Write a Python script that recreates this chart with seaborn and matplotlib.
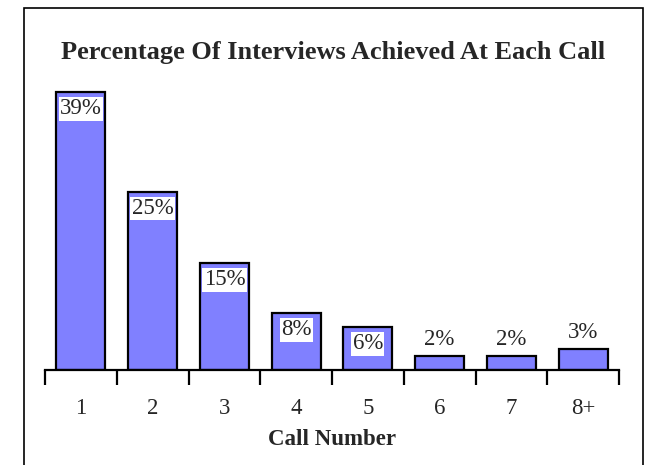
import matplotlib
matplotlib.use("Agg")
import matplotlib.pyplot as plt
import seaborn as sns
import pandas as pd
from matplotlib.patches import Rectangle

calls = ["1", "2", "3", "4", "5", "6", "7", "8+"]
pct = [39, 25, 15, 8, 6, 2, 2, 3]
pct_labels = ["39%", "25%", "15%", "8%", "6%", "2%", "2%", "3%"]

sns.set_style("white")
plt.rcParams["font.family"] = ["Liberation Serif", "DejaVu Serif"]

W, H = 646, 465
fig = plt.figure(figsize=(W / 100, H / 100), dpi=100)
ax = fig.add_axes([45 / W, 95 / H, (619 - 45) / W, (370 - 80) / H])

df = pd.DataFrame({"call": calls, "pct": pct})
sns.barplot(data=df, x="call", y="pct", color="#8080FF", saturation=1,
            edgecolor="black", linewidth=1.6, width=0.68, ax=ax)

ax.set_xlim(-0.5, len(calls) - 0.5)
ax.set_ylim(0, (370 - 80) / 7.13)

# value labels: inside top of the bar with white box, or above small bars
for i, (v, lab) in enumerate(zip(pct, pct_labels)):
    if v >= 5:
        ax.annotate(lab, (i, v), xytext=(0, -4.5), textcoords="offset points",
                    ha="center", va="top", fontsize=16.5,
                    bbox=dict(facecolor="white", edgecolor="none", pad=1.0))
    else:
        ax.annotate(lab, (i, v), xytext=(0, 4), textcoords="offset points",
                    ha="center", va="bottom", fontsize=16.5)

# ticks between categories, labels in the middle
ax.set_xticks([i - 0.5 for i in range(len(calls) + 1)])
ax.set_xticklabels([])
ax.set_xticks(range(len(calls)), minor=True)
ax.set_xticklabels(calls, minor=True, fontsize=16.5)
ax.tick_params(axis="x", which="major", length=11, width=1.6, color="black", direction="out", bottom=True)
ax.tick_params(axis="x", which="minor", length=0, pad=20.5)
ax.set_yticks([])
ax.set_ylabel("")
ax.set_xlabel("Call Number", fontsize=16.5, fontweight="bold", labelpad=7)

for s in ["top", "left", "right"]:
    ax.spines[s].set_visible(False)
ax.spines["bottom"].set_linewidth(1.6)
ax.spines["bottom"].set_color("black")

fig.text(0.5 * (24 + 643) / W, 1 - 53 / H, "Percentage Of Interviews Achieved At Each Call",
         ha="center", va="center", fontsize=19, fontweight="bold")

# outer frame (open at the bottom edge of the image)
fig.patches.append(Rectangle((24 / W, -0.05), (643 - 24) / W, 1.05 - 8 / H,
                             transform=fig.transFigure, fill=False,
                             edgecolor="black", linewidth=1.2, clip_on=False))

fig.savefig("out.png", dpi=100)
